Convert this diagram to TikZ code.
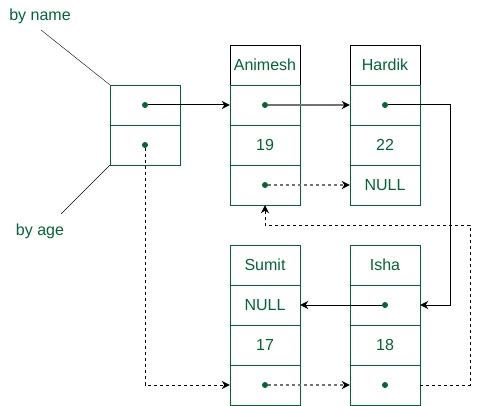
\documentclass[tikz,border=0pt]{standalone}
\usepackage{fontspec}
\setmainfont{Liberation Sans}
\usetikzlibrary{arrows.meta}
\definecolor{cellgreen}{HTML}{006633}

\begin{document}
\begin{tikzpicture}[x=1pt,y=-1pt,
    cell/.style={draw=cellgreen, text=cellgreen, minimum width=70pt, minimum height=40pt,
        inner sep=0pt, font=\fontsize{16}{19}\selectfont},
    namecell/.style={cell, draw=black},
    dot/.style={circle, fill=cellgreen, inner sep=0pt, minimum size=6pt},
    tag/.style={text=cellgreen, inner sep=0pt, font=\fontsize{16}{19}\selectfont},
    link/.style={-{Stealth[length=8pt,width=8pt,inset=2.5pt,color=black]}, line width=1pt},
    greylink/.style={link, draw=black!55, line width=1.4pt},
    dots/.style={dash pattern=on 3pt off 3pt}]
    \useasboundingbox (0,0) rectangle (479,406);

    % head record
    \node[cell] (head1) at (145,105) {};
    \node[cell] (head2) at (145,145) {};
    \node[dot] (headn) at (head1) {};
    \node[dot] (heada) at (head2) {};

    \node[tag] (byname) at (40,16) {by name};
    \node[tag] (byage) at (40,231) {by age};
    \coordinate (bynameend) at (41,30);
    \coordinate (byageend) at (61,214);
    \draw (bynameend) -- (head1.north west);
    \draw (byageend) -- (head2.south west);

    % Animesh
    \node[namecell] (anim0) at (265,65) {Animesh};
    \node[cell] (anim1) at (265,105) {};
    \node[cell] (anim2) at (265,145) {19};
    \node[cell] (anim3) at (265,185) {};
    \node[dot] (animn) at (anim1) {};
    \node[dot] (anima) at (anim3) {};

    % Hardik
    \node[namecell] (hard0) at (385,65) {Hardik};
    \node[cell] (hard1) at (385,105) {};
    \node[cell] (hard2) at (385,145) {22};
    \node[cell] (hard3) at (385,185) {NULL};
    \node[dot] (hardn) at (hard1) {};

    % Sumit
    \node[cell] (sum0) at (265,265) {Sumit};
    \node[cell] (sum1) at (265,305) {NULL};
    \node[cell] (sum2) at (265,345) {17};
    \node[cell] (sum3) at (265,385) {};
    \node[dot] (suma) at (sum3) {};

    % Isha
    \node[cell] (isha0) at (385,265) {Isha};
    \node[cell] (isha1) at (385,305) {};
    \node[cell] (isha2) at (385,345) {18};
    \node[cell] (isha3) at (385,385) {};
    \node[dot] (ishan) at (isha1) {};
    \node[dot] (ishaa) at (isha3) {};

    % by name chain
    \draw[link] (headn) -- (anim1.west);
    \draw[greylink] (animn) -- (hard1.west);
    \draw[link] (hardn) -- ++(65,0) |- (isha1.east);
    \draw[link] (ishan) -- (sum1.east);

    % by age chain
    \draw[link, dots] (heada) |- (sum3.west);
    \draw[greylink, dots] (suma) -- (isha3.west);
    \draw[link, dots] (isha3.east) -- ++(50,0) -- ++(0,-160) -| (anim3.south);
    \draw[greylink, dots] (anima) -- (hard3.west);
\end{tikzpicture}
\end{document}
